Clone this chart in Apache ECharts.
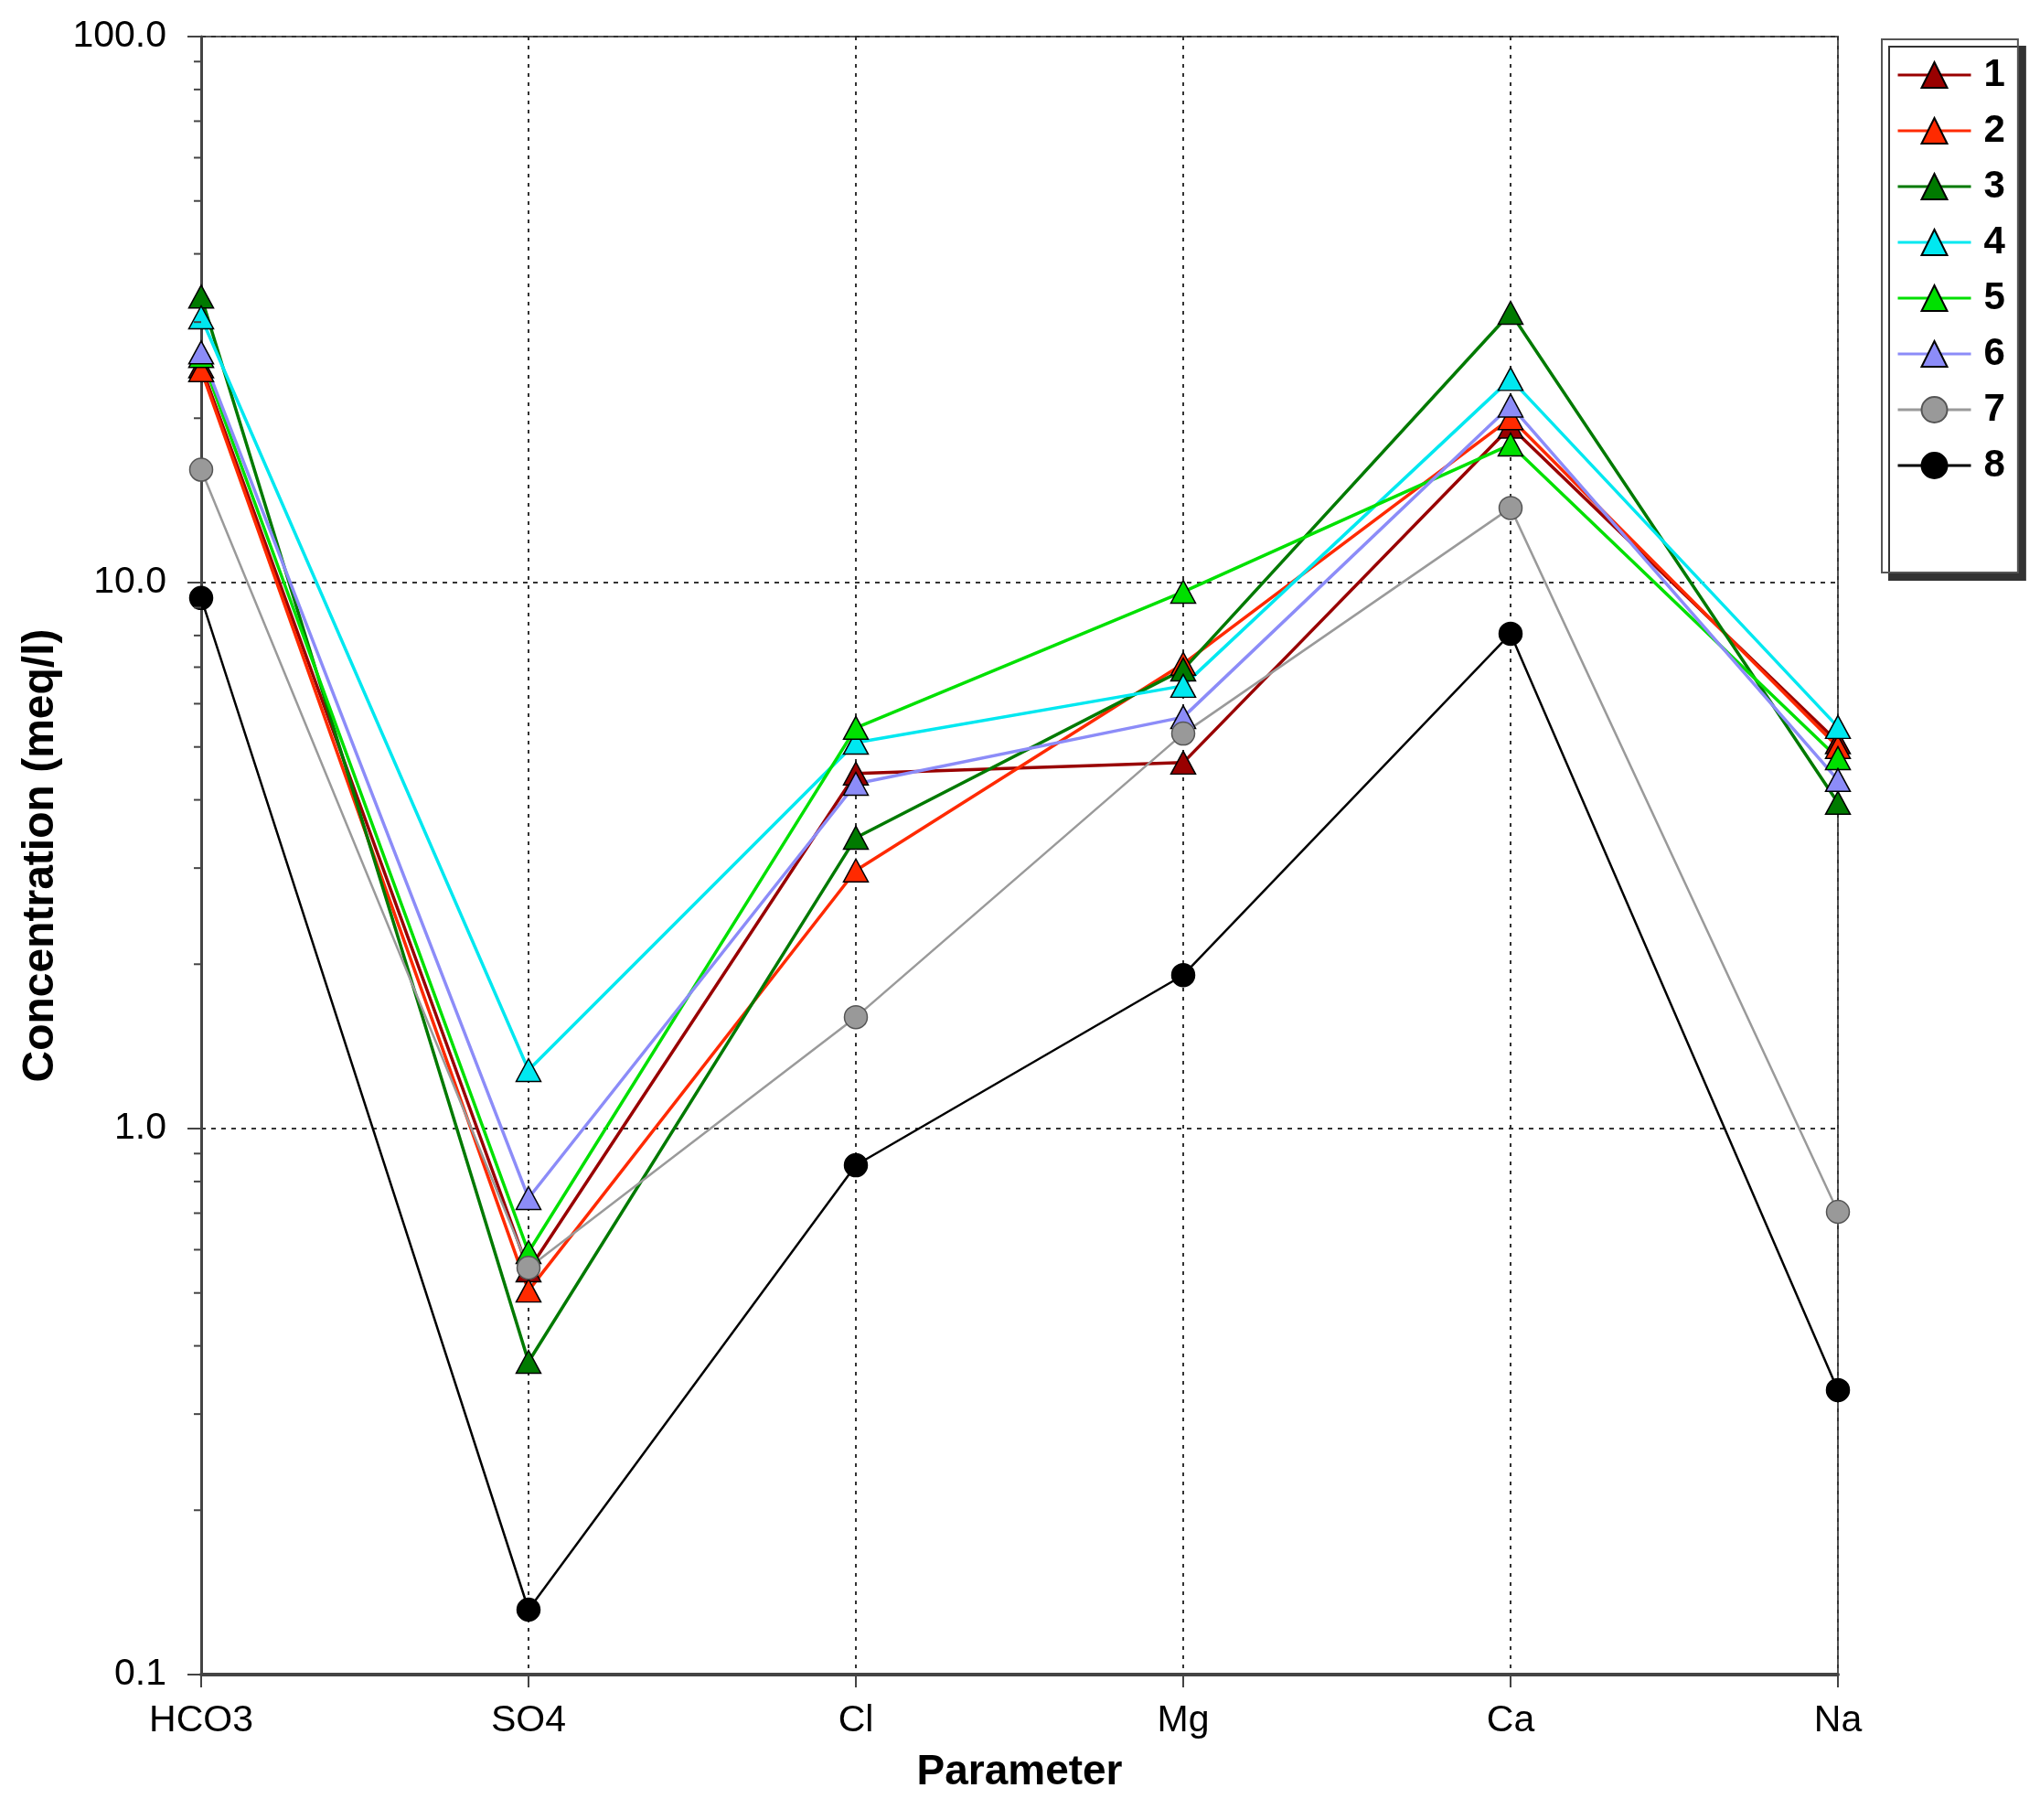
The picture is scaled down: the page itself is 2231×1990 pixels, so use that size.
<!DOCTYPE html>
<html>
<head>
<meta charset="utf-8">
<script src="https://cdn.jsdelivr.net/npm/echarts@6/dist/echarts.min.js"></script>
<style>
  html, body { margin: 0; padding: 0; background: #fff; }
  #chart { width: 2231px; height: 1990px; }
</style>
</head>
<body>
<div id="chart"></div>
<script>
// categories on the x axis
const parameters = ['HCO3', 'SO4', 'Cl', 'Mg', 'Ca', 'Na'];

// concentrations (meq/l), one list per sample
const sample1 = [24.9, 0.55, 4.47, 4.68, 19.3, 5.1];
const sample2 = [24.5, 0.505, 2.97, 7.1, 20.0, 5.0];
const sample3 = [33.4, 0.374, 3.41, 6.93, 31.2, 3.95];
const sample4 = [30.6, 1.28, 5.09, 6.47, 23.6, 5.44];
const sample5 = [26.0, 0.594, 5.42, 9.62, 17.9, 4.77];
const sample6 = [26.4, 0.746, 4.28, 5.67, 21.1, 4.35];
const sample7 = [16.1, 0.556, 1.60, 5.29, 13.7, 0.704];
const sample8 = [9.37, 0.1315, 0.857, 1.91, 8.06, 0.332];

const sampleNames = ['1', '2', '3', '4', '5', '6', '7', '8'];

// y axis: decades shown, and the minor ticks (2..9 of each decade)
const yTicks = [0.1, 1, 10, 100];
const minorTicks = [];
for (let d = 0.1; d < 100; d *= 10) {
  for (let k = 2; k <= 9; k++) minorTicks.push(+(d * k).toPrecision(3));
}

const FONT = 'Liberation Sans, Arial, sans-serif';

var myChart = echarts.init(document.getElementById('chart'));

function line(name, data, color, symbol, fill, border, width) {
  return {
    name: name,
    type: 'line',
    data: data,
    symbol: symbol,
    symbolSize: symbol === 'circle' ? 25 : [27, 25],
    lineStyle: { color: color, width: width },
    itemStyle: { color: fill, borderColor: border, borderWidth: 1.5 },
    emphasis: { disabled: true },
    animation: false
  };
}

var option = {
  backgroundColor: '#fff',
  animation: false,
  grid: {
    left: 220, right: 221, top: 40, bottom: 159,
    show: true,
    borderColor: '#555',
    borderWidth: 2
  },
  legend: {
    data: sampleNames,
    orient: 'vertical',
    left: 2058,
    top: 43,
    itemWidth: 80,
    itemHeight: 35,
    itemGap: 19,
    padding: [18, 14, 96, 16],
    backgroundColor: '#fff',
    borderColor: '#555',
    borderWidth: 2,
    borderRadius: 0,
    shadowColor: '#333',
    shadowBlur: 0,
    shadowOffsetX: 8,
    shadowOffsetY: 8,
    selectedMode: false,
    lineStyle: { width: 3 },
    textStyle: {
      fontFamily: FONT,
      fontSize: 42,
      fontWeight: 'bold',
      color: '#000',
      padding: [0, 0, 0, 9]
    }
  },
  xAxis: {
    type: 'category',
    data: parameters,
    boundaryGap: false,
    name: 'Parameter',
    nameLocation: 'middle',
    nameGap: 84,
    nameTextStyle: { fontFamily: FONT, fontSize: 46, fontWeight: 'bold', color: '#000' },
    axisLine: { lineStyle: { color: '#444', width: 4 } },
    axisTick: { show: true, length: 14, lineStyle: { color: '#444', width: 2 } },
    axisLabel: { fontFamily: FONT, fontSize: 41, color: '#000', margin: 30 },
    splitLine: { show: true, lineStyle: { color: '#333', width: 2, type: [4, 6] } }
  },
  yAxis: {
    type: 'log',
    logBase: 10,
    min: yTicks[0],
    max: yTicks[yTicks.length - 1],
    splitNumber: 3,
    name: 'Concentration (meq/l)',
    nameLocation: 'middle',
    nameGap: 125,
    nameTextStyle: { fontFamily: FONT, fontSize: 48, fontWeight: 'bold', color: '#000' },
    axisLine: { show: true, lineStyle: { color: '#444', width: 3 } },
    axisTick: { show: true, length: 15, lineStyle: { color: '#444', width: 2 } },
    axisLabel: {
      fontFamily: FONT, fontSize: 41, color: '#000', margin: 38,
      formatter: function (v) { return Number(v).toFixed(1); }
    },
    splitLine: { show: true, lineStyle: { color: '#333', width: 2, type: [5, 6] } }
  },
  series: [
    line('1', sample1, '#990000', 'triangle', '#990000', '#000', 3.5),
    line('2', sample2, '#ff2a00', 'triangle', '#ff2a00', '#000', 3.5),
    line('3', sample3, '#007a00', 'triangle', '#007a00', '#000', 3.5),
    line('4', sample4, '#00e8f0', 'triangle', '#00e8f0', '#000', 3.5),
    line('5', sample5, '#00e000', 'triangle', '#00e000', '#000', 3.5),
    line('6', sample6, '#8c8cf8', 'triangle', '#8c8cf8', '#000', 3.5),
    line('7', sample7, '#9a9a9a', 'circle', '#999999', '#555', 2.5),
    line('8', sample8, '#000000', 'circle', '#000000', '#000', 2.5),
    {
      // outward minor ticks on the log axis
      type: 'custom',
      silent: true,
      z: 5,
      data: minorTicks.map(function (v) { return [0, v]; }),
      renderItem: function (params, api) {
        var p = api.coord([api.value(0), api.value(1)]);
        return {
          type: 'line',
          shape: { x1: p[0], y1: p[1], x2: p[0] - 8, y2: p[1] },
          style: { stroke: '#444', lineWidth: 2 }
        };
      }
    }
  ]
};

option && myChart.setOption(option);
</script>
</body>
</html>
